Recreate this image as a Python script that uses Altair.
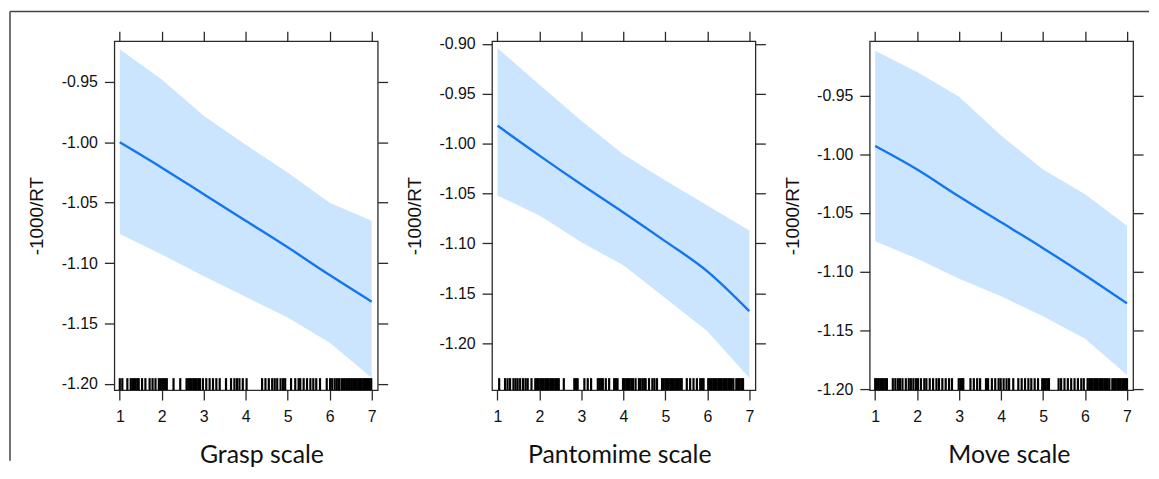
import altair as alt
import pandas as pd

# ---------------- data ----------------
x_grid = [1, 2, 3, 4, 5, 6, 7]

grasp_fit = [-1.000, -1.021, -1.043, -1.065, -1.087, -1.110, -1.132]
grasp_hi = [-0.923, -0.948, -0.978, -1.002, -1.025, -1.050, -1.065]
grasp_lo = [-1.076, -1.093, -1.111, -1.128, -1.145, -1.166, -1.195]

panto_fit = [-0.982, -1.012, -1.041, -1.069, -1.098, -1.128, -1.168]
panto_hi = [-0.904, -0.941, -0.977, -1.011, -1.037, -1.062, -1.087]
panto_lo = [-1.052, -1.072, -1.099, -1.122, -1.155, -1.188, -1.235]

move_fit = [-0.993, -1.013, -1.036, -1.058, -1.080, -1.103, -1.127]
move_hi = [-0.912, -0.930, -0.951, -0.984, -1.013, -1.034, -1.061]
move_lo = [-1.074, -1.089, -1.106, -1.121, -1.138, -1.157, -1.188]

grasp_rug = [1.00, 1.06, 1.18, 1.26, 1.30, 1.34, 1.38, 1.42, 1.45, 1.53, 1.61, 1.71,
             1.78, 1.85, 1.93, 1.97, 2.01, 2.05, 2.09, 2.12, 2.28, 2.44, 2.59, 2.63,
             2.67, 2.71, 2.75, 2.79, 2.83, 2.87, 2.91, 2.98, 3.06, 3.14, 3.22, 3.30,
             3.38, 3.53, 3.65, 3.73, 3.79, 3.85, 3.93, 4.02, 4.39, 4.47, 4.55, 4.63,
             4.69, 4.75, 4.83, 4.89, 4.94, 5.08, 5.18, 5.26, 5.30, 5.38, 5.46, 5.54,
             5.61, 5.68, 5.77, 5.93, 6.01, 6.06, 6.12, 6.17, 6.22, 6.28, 6.32, 6.36,
             6.40, 6.44, 6.48, 6.52, 6.56, 6.60, 6.64, 6.68, 6.72, 6.76, 6.80, 6.84,
             6.87, 6.91, 6.95, 6.99]

panto_rug = [1.04, 1.18, 1.24, 1.30, 1.38, 1.43, 1.48, 1.54, 1.61, 1.67, 1.72, 1.81,
             1.90, 1.94, 1.98, 2.02, 2.06, 2.10, 2.14, 2.18, 2.22, 2.26, 2.30, 2.34,
             2.38, 2.42, 2.46, 2.58, 2.83, 2.87, 2.91, 3.07, 3.15, 3.23, 3.39, 3.43,
             3.47, 3.51, 3.58, 3.66, 3.78, 3.82, 3.86, 3.99, 4.03, 4.07, 4.11, 4.15,
             4.19, 4.23, 4.29, 4.37, 4.41, 4.46, 4.50, 4.53, 4.61, 4.69, 4.74, 4.80,
             4.92, 4.96, 5.00, 5.04, 5.08, 5.12, 5.16, 5.20, 5.24, 5.28, 5.32, 5.36,
             5.39, 5.51, 5.59, 5.67, 5.75, 5.83, 5.87, 5.91, 6.02, 6.06, 6.10, 6.14,
             6.18, 6.22, 6.26, 6.30, 6.34, 6.38, 6.42, 6.46, 6.50, 6.54, 6.58, 6.62,
             6.69, 6.73, 6.77, 6.81, 6.85]

move_rug = [1.00, 1.04, 1.08, 1.12, 1.16, 1.20, 1.24, 1.28, 1.42, 1.48, 1.54, 1.59,
            1.65, 1.73, 1.80, 1.85, 1.91, 1.97, 2.02, 2.09, 2.17, 2.22, 2.30, 2.38,
            2.46, 2.52, 2.60, 2.68, 2.76, 2.83, 2.99, 3.03, 3.07, 3.10, 3.27, 3.35,
            3.43, 3.50, 3.64, 3.69, 3.78, 3.86, 3.94, 3.99, 4.06, 4.13, 4.19, 4.29,
            4.41, 4.49, 4.57, 4.65, 4.72, 4.80, 4.88, 4.98, 5.02, 5.06, 5.10, 5.14,
            5.37, 5.43, 5.51, 5.59, 5.67, 5.75, 5.83, 5.91, 5.97, 6.06, 6.10, 6.14,
            6.18, 6.22, 6.26, 6.30, 6.34, 6.38, 6.42, 6.46, 6.50, 6.54, 6.58, 6.65,
            6.69, 6.73, 6.77, 6.81, 6.85, 6.89, 6.93, 6.97, 7.00]

grasp_yticks = [-1.20, -1.15, -1.10, -1.05, -1.00, -0.95]
panto_yticks = [-1.20, -1.15, -1.10, -1.05, -1.00, -0.95, -0.90]
move_yticks = [-1.20, -1.15, -1.10, -1.05, -1.00, -0.95]

x_domain = [0.87, 7.145]
grasp_ydom = [-1.2052, -0.9163]
panto_ydom = [-1.2471, -0.8973]
move_ydom = [-1.2008, -0.9038]

W, H = 265, 351
BAND = "#cce5ff"
LINE = "#1276f0"
FRAME = "#2a2a2a"
TEXT = "#111111"
LABEL_EXPR = "replace(format(datum.value, '.2f'), '\u2212', '-')"


def panel(fit, lo, hi, rug, yticks, ydom, xlabel, title_x, extra=None):
    df = pd.DataFrame({"x": x_grid, "fit": fit, "lo": lo, "hi": hi})
    rdf = pd.DataFrame({"x": rug})
    xs = alt.Scale(domain=x_domain, nice=False, zero=False)
    ys = alt.Scale(domain=ydom, nice=False, zero=False)

    band = alt.Chart(df).mark_area(color=BAND, opacity=1).encode(
        x=alt.X("x:Q", scale=xs, axis=alt.Axis(
            orient="bottom", values=x_grid, title=xlabel, format="d",
            labelPadding=9,
            titleFont="Lato", titleFontSize=25, titleFontWeight="normal",
            titleColor="#111111", titleX=title_x, titleY=73,
            titleBaseline="alphabetic", titleAlign="center")),
        y=alt.Y("lo:Q", scale=ys, axis=alt.Axis(
            orient="left", values=yticks, title="-1000/RT", labelExpr=LABEL_EXPR,
            titleFont="Liberation Sans", titleFontSize=19, titleFontWeight="normal",
            titleColor="#111111", titleX=-78, titleAngle=270,
            titleBaseline="middle", titleAlign="center")),
        y2="hi:Q",
    )
    line = alt.Chart(df).mark_line(color=LINE, strokeWidth=2.4, interpolate="monotone").encode(
        x=alt.X("x:Q", scale=xs, axis=alt.Axis(
            orient="top", values=x_grid, labels=False, title=None)),
        y=alt.Y("fit:Q", scale=ys, axis=alt.Axis(
            orient="right", values=yticks, labels=False, title=None)),
    )
    rugl = alt.Chart(rdf).mark_rule(color="black", strokeWidth=2.2).encode(
        x=alt.X("x:Q", scale=xs, axis=None),
        y=alt.value(H),
        y2=alt.value(H - 12),
    )
    layers = [band, line, rugl]
    if extra is not None:
        layers += extra
    return alt.layer(*layers).resolve_axis(
        x="independent", y="independent"
    ).properties(width=W, height=H)


one = pd.DataFrame({"k": [0]})
border_top = alt.Chart(one).mark_rule(color="#444444", strokeWidth=1.5).encode(
    x=alt.value(-105), x2=alt.value(1041), y=alt.value(-30))
border_left = alt.Chart(one).mark_rule(color="#444444", strokeWidth=1.5).encode(
    x=alt.value(-105), y=alt.value(-30), y2=alt.value(422))

p1 = panel(grasp_fit, grasp_lo, grasp_hi, grasp_rug, grasp_yticks, grasp_ydom,
           "Grasp scale", 148, extra=[border_top, border_left])
p2 = panel(panto_fit, panto_lo, panto_hi, panto_rug, panto_yticks, panto_ydom,
           "Pantomime scale", 128)
p3 = panel(move_fit, move_lo, move_hi, move_rug, move_yticks, move_ydom,
           "Move scale", 140)

chart = alt.hconcat(p1, p2, p3, spacing=115, bounds="flush").properties(
    padding=0, background="white"
).configure_view(
    stroke=FRAME, strokeWidth=1.3
).configure_axis(
    domain=False, grid=False, tickColor=FRAME, tickWidth=1.3, tickSize=10,
    labelFont="Liberation Sans", labelFontSize=16, labelColor=TEXT,
    labelPadding=7,
)

chart.save("out.html", embed_options={"renderer": "svg", "actions": False})
